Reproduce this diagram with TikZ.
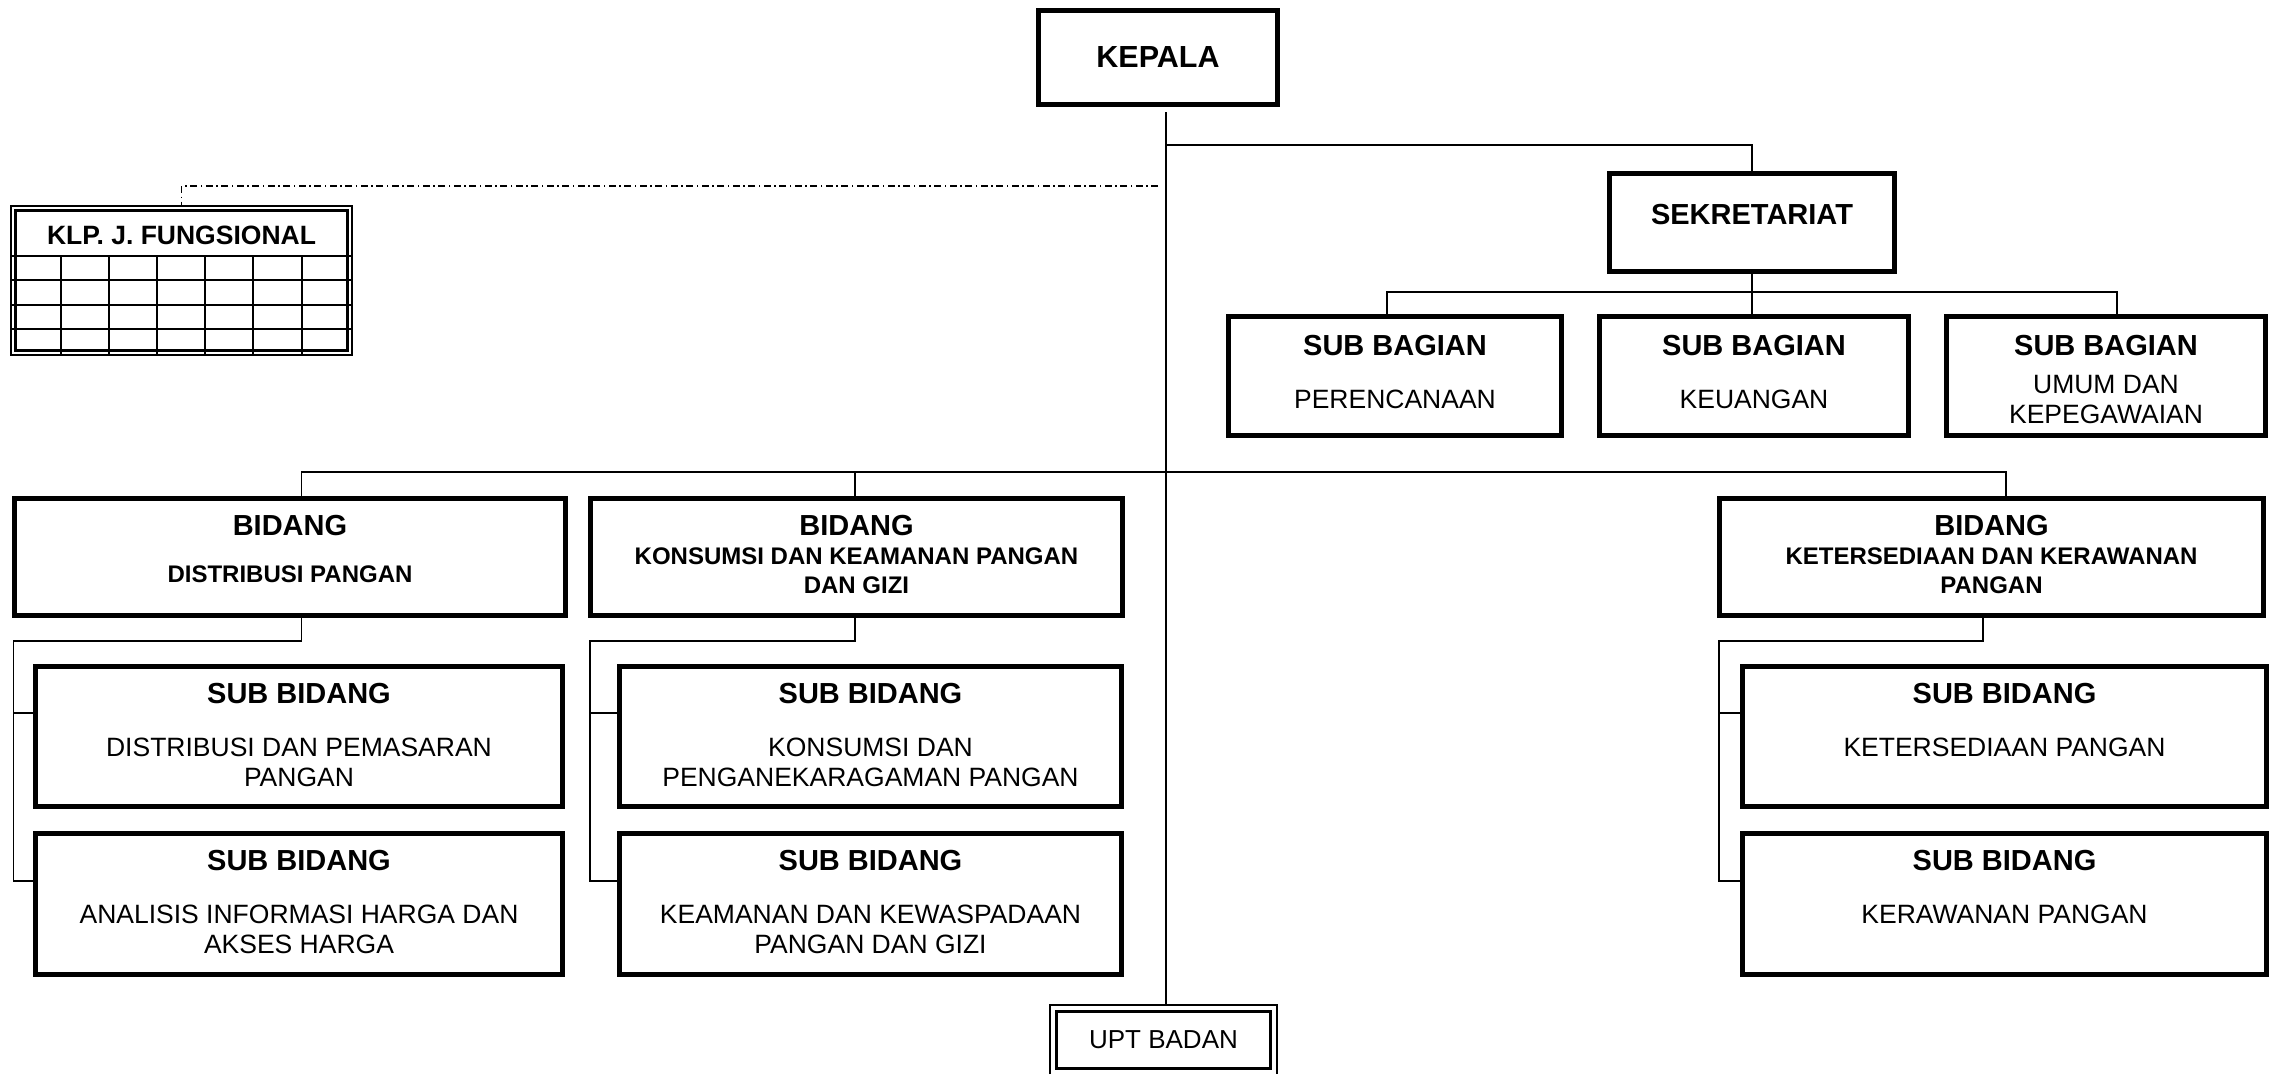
\documentclass[tikz,border=0pt]{standalone}
\usepackage{fontspec}
\setmainfont{Liberation Sans}

\tikzset{
  box/.style={draw, line width=5pt, inner sep=0pt},
  link/.style={line width=1.6pt},
  grid/.style={line width=2pt},
  dashdot/.style={line width=1.5pt, dash pattern=on 7pt off 3.5pt on 1.5pt off 3.5pt},
  head/.style={font=\bfseries\fontsize{29}{33}\selectfont},
  subhead/.style={font=\bfseries\fontsize{24}{29}\selectfont, align=center},
  desc/.style={font=\fontsize{26.5}{30.5}\selectfont, align=center, inner sep=0pt}
}

\begin{document}
\begin{tikzpicture}[x=1pt, y=-1pt]
	  \useasboundingbox (0,0) rectangle (2278,1074);
	  % top
	  \node[box, minimum width=239pt, minimum height=94pt, font=\bfseries\fontsize{30.5}{34}\selectfont] (kepala) at (1158,57.5) {KEPALA};
	  \node[box, minimum width=285pt, minimum height=98pt] (sek) at (1752,222.5) {};
	  \node[head] (sektxt) at ([yshift=7.5pt]sek.center) {SEKRETARIAT};
	  % sub bagian
	  \node[box, minimum width=333pt, minimum height=119pt] (sbag1) at (1395,376) {};
	  \node[box, minimum width=309pt, minimum height=119pt] (sbag2) at (1754,376) {};
	  \node[box, minimum width=319pt, minimum height=119pt] (sbag3) at (2106,376) {};
	  \node[head] (sbag1t) at ([yshift=-32pt]sbag1.north) {SUB BAGIAN};
	  \node[head] (sbag2t) at ([yshift=-32pt]sbag2.north) {SUB BAGIAN};
	  \node[head] (sbag3t) at ([yshift=-32pt]sbag3.north) {SUB BAGIAN};
	  \node[desc] (sbag1d) at ([yshift=-23.5pt]sbag1.center) {PERENCANAAN};
	  \node[desc] (sbag2d) at ([yshift=-23.5pt]sbag2.center) {KEUANGAN};
	  \node[desc] (sbag3d) at ([yshift=-23.5pt]sbag3.center) {UMUM DAN\\KEPEGAWAIAN};
	  % bidang
	  \node[box, minimum width=551pt, minimum height=117pt] (bid1) at (290,557) {};
	  \node[box, minimum width=532pt, minimum height=117pt] (bid2) at (856.5,557) {};
	  \node[box, minimum width=544pt, minimum height=117pt] (bid3) at (1991.5,557) {};
	  \node[head] (bid1t) at ([yshift=-30pt]bid1.north) {BIDANG};
	  \node[head] (bid2t) at ([yshift=-30pt]bid2.north) {BIDANG};
	  \node[head] (bid3t) at ([yshift=-30pt]bid3.north) {BIDANG};
	  \node[subhead] (bid1d) at ([yshift=-17pt]bid1.center) {DISTRIBUSI PANGAN};
	  \node[subhead] (bid2d) at ([yshift=-13.5pt]bid2.center) {KONSUMSI DAN KEAMANAN PANGAN\\DAN GIZI};
	  \node[subhead] (bid3d) at ([yshift=-13.5pt]bid3.center) {KETERSEDIAAN DAN KERAWANAN\\PANGAN};
	  % sub bidang
	  \node[box, minimum width=527pt, minimum height=140pt] (sub11) at (299,736.5) {};
	  \node[box, minimum width=527pt, minimum height=141pt] (sub12) at (299,904) {};
	  \node[box, minimum width=502pt, minimum height=140pt] (sub21) at (870.5,736.5) {};
	  \node[box, minimum width=502pt, minimum height=141pt] (sub22) at (870.5,904) {};
	  \node[box, minimum width=524pt, minimum height=140pt] (sub31) at (2004.5,736.5) {};
	  \node[box, minimum width=524pt, minimum height=141pt] (sub32) at (2004.5,904) {};
	  \foreach \s in {sub11,sub12,sub21,sub22,sub31,sub32}
	    \node[head] (\s t) at ([yshift=-30pt]\s.north) {SUB BIDANG};
	  \node[desc, anchor=north] (sub11d) at ([yshift=-73.5pt]sub11.north) {DISTRIBUSI DAN PEMASARAN\\PANGAN};
	  \node[desc, anchor=north] (sub12d) at ([yshift=-73.5pt]sub12.north) {ANALISIS INFORMASI HARGA DAN\\AKSES HARGA};
	  \node[desc, anchor=north] (sub21d) at ([yshift=-73.5pt]sub21.north) {KONSUMSI DAN\\PENGANEKARAGAMAN PANGAN};
	  \node[desc, anchor=north] (sub22d) at ([yshift=-73.5pt]sub22.north) {KEAMANAN DAN KEWASPADAAN\\PANGAN DAN GIZI};
	  \node[desc, anchor=north] (sub31d) at ([yshift=-73.5pt]sub31.north) {KETERSEDIAAN PANGAN};
	  \node[desc, anchor=north] (sub32d) at ([yshift=-73.5pt]sub32.north) {KERAWANAN PANGAN};
	  % klp j. fungsional
	  \node[draw, grid, inner sep=0pt, outer sep=0pt, minimum width=341pt, minimum height=149pt] (klp) at (181.5,280.5) {};
	  \draw[line width=2.5pt] ([xshift=4.5pt,yshift=-4.5pt]klp.north west) rectangle ([xshift=-4.5pt,yshift=4.5pt]klp.south east);
	  \foreach \gy in {256,280,305,329} \draw[grid] (12,\gy) -- (351,\gy);
	  \foreach \gx in {61,109,157,205,253,302} \draw[grid] (\gx,256) -- (\gx,355);
	  \node[font=\bfseries\fontsize{26.5}{30}\selectfont] (klptxt) at (181.5,235) {KLP. J. FUNGSIONAL};
	  % upt
	  \node[draw, line width=3pt, inner sep=0pt, outer sep=0pt, minimum width=214pt, minimum height=57pt, font=\fontsize{26}{30}\selectfont] (upt) at (1163.5,1040) {UPT BADAN};
	  \draw[line width=2pt] ([xshift=-6.5pt,yshift=-5.5pt]upt.south west) |- ([xshift=6.5pt,yshift=6.5pt]upt.north east) -- ([xshift=6.5pt,yshift=-5.5pt]upt.south east);
	  \coordinate (uptframe) at ([yshift=6.5pt]upt.north);
	  % connectors
	  \coordinate (trunktop) at ([xshift=8pt,yshift=-5pt]kepala.south);
	  \draw[link] (trunktop) -- (trunktop |- uptframe);
	  \draw[link] ([yshift=-33pt]trunktop) -| (sek.north);
	  \coordinate (ddend) at (1158,186);
	  \draw[dashdot] (ddend) -| (klp.north);
	  \draw[link] (sek.south) -- (sek.south |- sbag2.north);
	  \draw[link] ([xshift=-8pt]sbag1.north) -- ++(0,-22) -| ([xshift=11pt]sbag3.north);
	  \draw[link] ([xshift=11.6pt]bid1.north) -- ++(0,-24) -| ([xshift=14.5pt]bid3.north);
	  \draw[link] ([xshift=-1.8pt]bid2.north) -- ++(0,-24);
	  \coordinate (rail1) at (13.4,641);
	  \coordinate (rail2) at (590,641);
	  \coordinate (rail3) at (1718.7,641);
	  \draw[link] ([xshift=11.6pt]bid1.south) |- (rail1) |- ([yshift=23pt]sub12.west);
	  \draw[link] ([yshift=23.5pt]sub11.west) -| (rail1);
	  \draw[link] ([xshift=-1.8pt]bid2.south) |- (rail2) |- ([yshift=23pt]sub22.west);
	  \draw[link] ([yshift=23.5pt]sub21.west) -| (rail2);
	  \draw[link] ([xshift=-8.5pt]bid3.south) |- (rail3) |- ([yshift=23pt]sub32.west);
	  \draw[link] ([yshift=23.5pt]sub31.west) -| (rail3);
	\end{tikzpicture}
\end{document}
